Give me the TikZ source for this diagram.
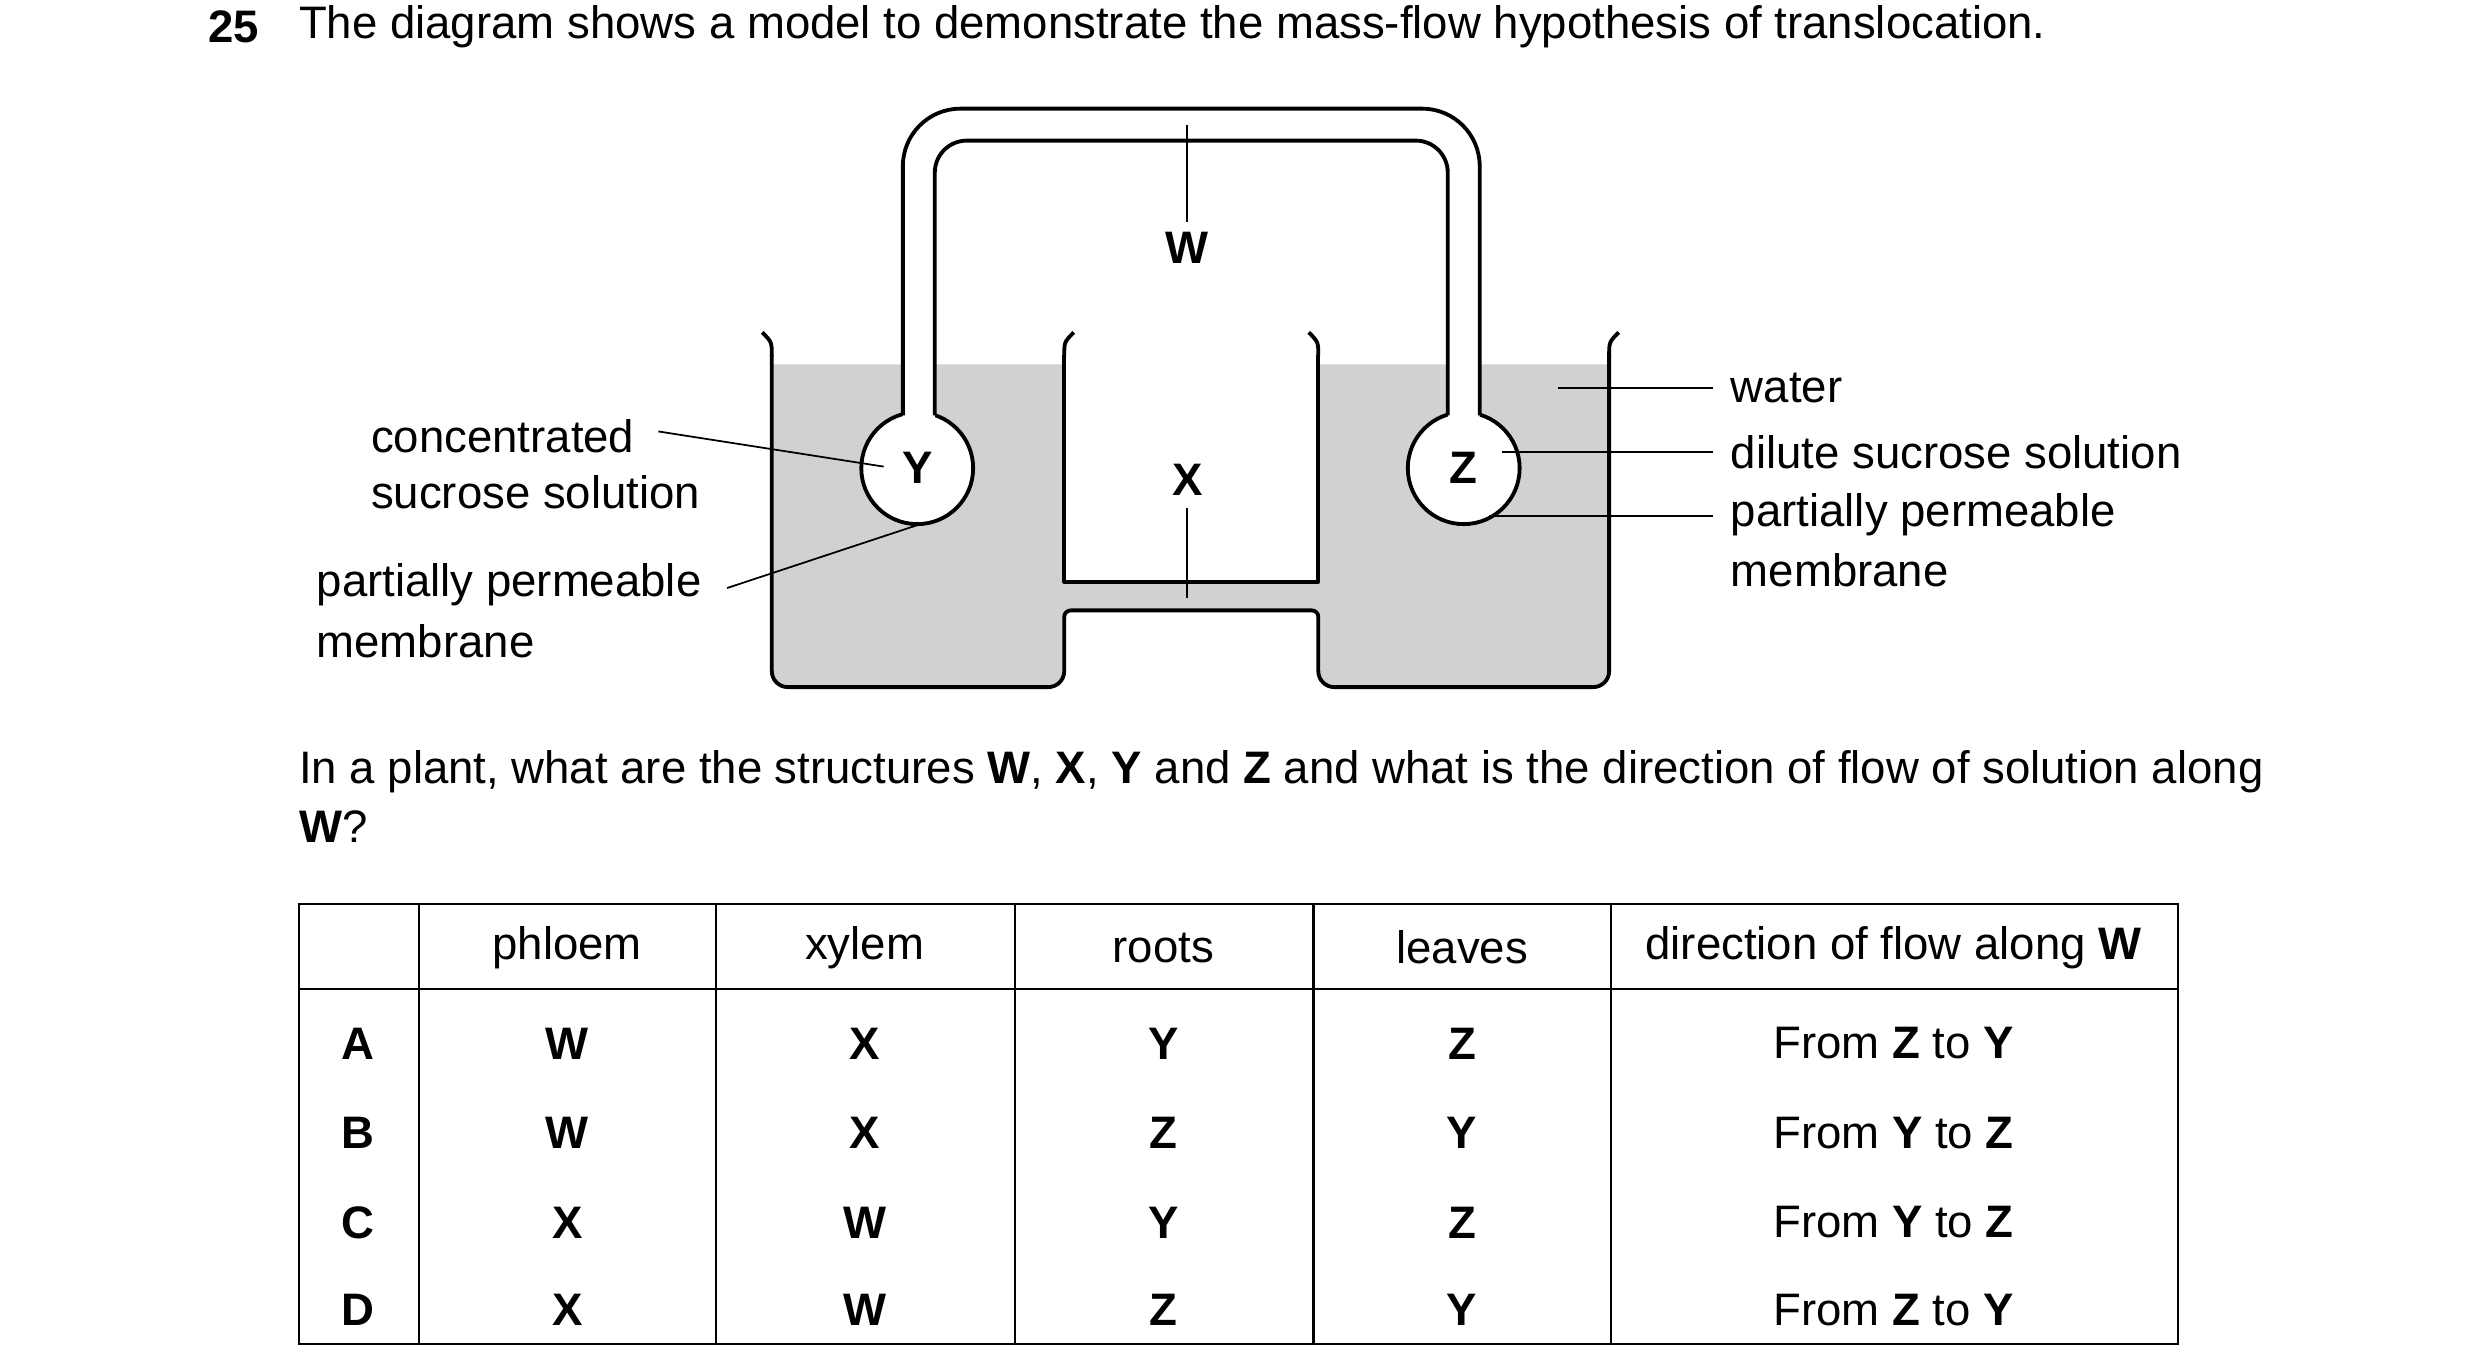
\documentclass[tikz,border=0pt]{standalone}
\usepackage{fontspec}
\setmainfont{Liberation Sans}
\usetikzlibrary{shapes.geometric}
\begin{document}
\begin{tikzpicture}[x=1pt,y=-1pt,
  txt/.style={font=\fontsize{28.5}{34}\selectfont,inner sep=0pt},
  lbl/.style={txt,anchor=west},
  ctr/.style={txt,anchor=center},
  bld/.style={txt,anchor=center,font=\fontsize{28.5}{34}\selectfont\bfseries},
  wall/.style={line width=2.4pt,line join=round},
  lead/.style={line width=1.1pt}]
\useasboundingbox (0,0) rectangle (1552,858);
\definecolor{wat}{RGB}{208,209,211}
% title
\node[lbl,font=\fontsize{28.5}{34}\selectfont\bfseries] (num) at (130,17) {25};
\node[lbl] (title) at (187,17) {The diagram shows a model to demonstrate the mass-flow hypothesis of translocation.};
% water
\fill[wat] (483,228) -- (666,228) -- (666,364) -- (825,364) -- (825,228) -- (1007,228) [rounded corners=10pt] -- (1007,430) -- (825,430) [sharp corners] -- (825,382) -- (666,382) [rounded corners=10pt] -- (666,430) -- (483,430) [sharp corners] -- (483,228) -- cycle;
% beaker outline
\draw[wall] (483,222) [rounded corners=10pt] -- (483,430) -- (666,430) [rounded corners=4pt] -- (666,382) -- (825,382) [rounded corners=10pt] -- (825,430) -- (1007,430) [sharp corners] -- (1007,222);
\draw[wall] (666,222) -- (666,364) -- (825,364) -- (825,222);
\draw[wall] (483,223) .. controls (483,214) .. (477,208);
\draw[wall] (666,223) .. controls (666,214) .. (672,208);
\draw[wall] (825,223) .. controls (825,214) .. (819,208);
\draw[wall] (1007,223) .. controls (1007,214) .. (1013,208);
% bulbs
\node[ellipse,draw,wall,fill=white,minimum width=70pt,minimum height=70pt,inner sep=0pt] (ybulb) at (574,293) {};
\node[ellipse,draw,wall,fill=white,minimum width=70pt,minimum height=70pt,inner sep=0pt] (zbulb) at (916,293) {};
% tube
\fill[white] (565,266) [rounded corners=36pt] -- (565,68) -- (926,68) [sharp corners] -- (926,266) -- (906,266) [rounded corners=20pt] -- (906,88) -- (585,88) [sharp corners] -- (585,266) -- cycle;
\draw[wall] (565,260) [rounded corners=36pt] -- (565,68) -- (926,68) [sharp corners] -- (926,260);
\draw[wall] (585,260) [rounded corners=20pt] -- (585,88) -- (906,88) [sharp corners] -- (906,260);
% letters
\node[bld] (Y) at (574,293) {Y};
\node[bld] (Z) at (916,293) {Z};
\node[bld] (W) at (743,155) {W};
\node[bld] (X) at (743,300) {X};
\coordinate (w1) at (743,78); \coordinate (w2) at (743,139);
\draw[lead] (w1) -- (w2);
\coordinate (x1) at (743,318); \coordinate (x2) at (743,374);
\draw[lead] (x1) -- (x2);
% left labels
\node[lbl] (conc) at (232,273) {concentrated};
\node[lbl] (suc) at (232,308) {sucrose solution};
\node[lbl] (ppl) at (198,366) {partially permeable};
\node[lbl] (meml) at (198,401) {membrane};
\coordinate (c1) at (412,270); \coordinate (c2) at (553,292);
\draw[lead] (c1) -- (c2);
\coordinate (p1) at (455,368); \coordinate (p2) at (576,328);
\draw[lead] (p1) -- (p2);
% right labels
\node[lbl] (water) at (1083,243) {water};
\node[lbl] (dil) at (1083,283) {dilute sucrose solution};
\node[lbl] (ppr) at (1083,322) {partially permeable};
\node[lbl] (memr) at (1083,357) {membrane};
\coordinate (r1) at (975,243); \coordinate (r2) at (1072,243);
\draw[lead] (r1) -- (r2);
\coordinate (r3) at (940,283); \coordinate (r4) at (1072,283);
\draw[lead] (r3) -- (r4);
\coordinate (r5) at (932,323); \coordinate (r6) at (1072,323);
\draw[lead] (r5) -- (r6);
% question
\node[lbl] (q1) at (187,483) {In a plant, what are the structures \textbf{W}, \textbf{X}, \textbf{Y} and \textbf{Z} and what is the direction of flow of solution along};
\node[lbl] (q2) at (187,517) {\textbf{W}?};
% table
\draw[line width=1.3pt] (187,566) rectangle (1363,841);
\draw[line width=1.3pt] (187,619) -- (1363,619);
\foreach \x in {262,448,635,822,1008} \draw[line width=1.3pt] (\x,566) -- (\x,841);
\node[ctr] (h1) at (355,593) {phloem};
\node[ctr] (h2) at (541,593) {xylem};
\node[ctr] (h3) at (728,593) {roots};
\node[ctr] (h4) at (915,593) {leaves};
\node[ctr] (h5) at (1185,593) {direction of flow along \textbf{W}};
\foreach \r/\y/\a/\b/\c/\d/\f/\t in {A/653/W/X/Y/Z/Z/Y, B/709/W/X/Z/Y/Y/Z, C/765/X/W/Y/Z/Y/Z, D/820/X/W/Z/Y/Z/Y}{
  \node[bld] (r\r0) at (224,\y) {\r};
  \node[bld] (r\r1) at (355,\y) {\a};
  \node[bld] (r\r2) at (541,\y) {\b};
  \node[bld] (r\r3) at (728,\y) {\c};
  \node[bld] (r\r4) at (915,\y) {\d};
  \node[ctr] (r\r5) at (1185,\y) {From \textbf{\f} to \textbf{\t}};
}
\end{tikzpicture}
\end{document}
